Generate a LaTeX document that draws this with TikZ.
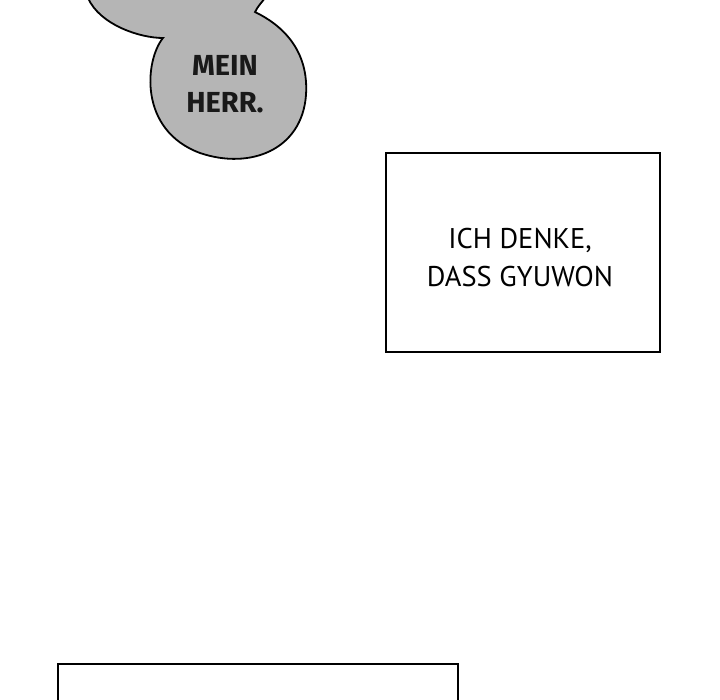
\documentclass[tikz,border=0pt]{standalone}
\usepackage{fontspec}
\setmainfont{PT Sans}
\newfontfamily\bubblefont{Fira Sans}
\definecolor{bubblegray}{HTML}{B5B5B5}
\begin{document}
\begin{tikzpicture}[x=1pt,y=-1pt,
  boxline/.style={draw=black,line width=1.6pt},
  caption/.style={font=\fontsize{28.5}{38}\selectfont,align=center,text=black},
  shout/.style={font=\bubblefont\bfseries\fontsize{29}{37}\selectfont,align=center,text=black!90}]
\useasboundingbox (0,0) rectangle (720,700);
\fill[bubblegray] (88,-2) .. controls (100,25) and (140,38) .. (163,38)
  .. controls (145,60) and (138,130) .. (200,153)
  .. controls (250,170) and (302,150) .. (306,95)
  .. controls (309,50) and (282,25) .. (255,12)
  .. controls (258,6) and (262,2) .. (265,-2) -- cycle;
\draw[line width=1.8pt] (88,-2) .. controls (100,25) and (140,38) .. (163,38)
  .. controls (145,60) and (138,130) .. (200,153)
  .. controls (250,170) and (302,150) .. (306,95)
  .. controls (309,50) and (282,25) .. (255,12)
  .. controls (258,6) and (262,2) .. (265,-2);
\node[shout] (b) at (225,84) {MEIN\\HERR.};
\draw[boxline] (386,153) rectangle (660,352);
\node[caption] (c) at (520,258) {ICH DENKE,\\DASS GYUWON};
\draw[boxline] (58,704) -- (58,664) -- (458,664) -- (458,704);
\end{tikzpicture}
\end{document}
